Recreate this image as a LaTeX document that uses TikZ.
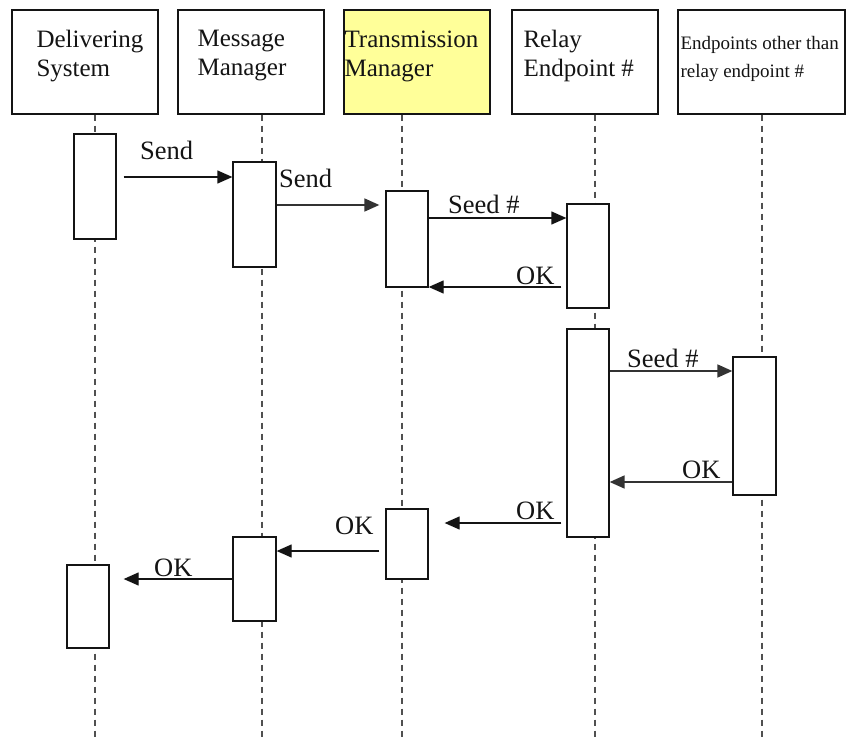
\documentclass[tikz,border=0pt]{standalone}
\usepackage{fontspec}
\setmainfont{Liberation Serif}
\usetikzlibrary{arrows.meta}
\definecolor{ink}{RGB}{20,20,20}
\definecolor{lifegrey}{RGB}{80,80,80}
\definecolor{hilite}{RGB}{255,255,153}
\tikzset{
  head/.style    = {draw=ink, line width=1.3pt, fill=white, minimum height=104pt, inner sep=0pt},
  htxt/.style    = {anchor=north west, inner sep=0pt, align=left, text=ink,
                    font=\fontsize{25}{29}\selectfont},
  life/.style    = {draw=lifegrey, line width=1.3pt, dash pattern=on 6pt off 5pt},
  act/.style     = {draw=ink, line width=1.3pt, fill=white, minimum width=42pt, inner sep=0pt},
  msg/.style     = {-{Triangle[length=15pt,width=13pt]}, draw=ink, line width=1.3pt},
  msgg/.style    = {msg, draw=black!80, line width=1.7pt},
  lbl/.style     = {anchor=base west, inner sep=0pt, text=ink, font=\fontsize{26.5}{30}\selectfont},
}

\begin{document}
\begin{tikzpicture}[x=1pt,y=1pt]
\useasboundingbox (0,0) rectangle (846,-738);

% ======================================================= header boxes
\node[head, minimum width=146pt] (ds) at (85,-62) {};
\node[head, minimum width=146pt] (mm) at (251,-62) {};
\node[head, minimum width=146pt, fill=hilite] (tm) at (417,-62) {};
\node[head, minimum width=146pt] (re) at (585,-62) {};
\node[head, minimum width=167pt] (ep) at (761.5,-62) {};

\node[htxt] at ([xshift=25pt,yshift=-21pt]ds.north west) {Delivering\\System};
\node[htxt] at ([xshift=20pt,yshift=-21pt]mm.north west) {Message\\Manager};
\node[htxt] at ([xshift=1pt,yshift=-21pt]tm.north west) {Transmission\\Manager};
\node[htxt] at ([xshift=12pt,yshift=-21pt]re.north west) {Relay\\Endpoint \#};
\node[htxt, font=\fontsize{19}{28}\selectfont] at ([xshift=3pt,yshift=-27pt]ep.north west)
  {Endpoints other than\\relay endpoint \#};

% ======================================================= lifelines (drawn under the bars)
\coordinate (dsl) at (95,-738);
\coordinate (mml) at (262,-738);
\coordinate (tml) at (402,-738);
\coordinate (rel) at (595,-738);
\coordinate (epl) at (762,-738);
\foreach \h/\l in {ds/dsl, mm/mml, tm/tml, re/rel, ep/epl}
  \draw[life] (\h.south -| \l) -- (\l);

% ======================================================= activation bars
\node[act, minimum height=105pt] (d1) at (95,-186.5) {};
\node[act, minimum height=105pt, minimum width=43pt] (m1) at (254.5,-214.5) {};
\node[act, minimum height=96pt]  (t1) at (407,-239) {};
\node[act, minimum height=104pt] (r1) at (588,-256) {};
\node[act, minimum height=208pt] (r2) at (588,-433) {};
\node[act, minimum height=138pt, minimum width=43pt] (e1) at (754.5,-426) {};
\node[act, minimum height=70pt]  (t2) at (407,-544) {};
\node[act, minimum height=84pt, minimum width=43pt]  (m2) at (254.5,-579) {};
\node[act, minimum height=83pt]  (d2) at (88,-606.5) {};

% ======================================================= messages
\coordinate (y1) at (0,-177);
\coordinate (y2) at (0,-205);
\coordinate (y3) at (0,-218);
\coordinate (y4) at (0,-287);
\coordinate (y5) at (0,-371);
\coordinate (y6) at (0,-482);
\coordinate (y7) at (0,-523);
\coordinate (y8) at (0,-551);
\coordinate (y9) at (0,-579);

\draw[msg, shorten <=7pt] (d1.east |- y1) -- (m1.west |- y1);
\draw[msgg, shorten >=6pt] (m1.east |- y2) -- (t1.west |- y2);
\draw[msg] (t1.east |- y3) -- (r1.west |- y3);
\draw[msg, shorten <=5pt] (r1.west |- y4) -- (t1.east |- y4);
\draw[msgg] (r2.east |- y5) -- (e1.west |- y5);
\draw[msgg] (e1.west |- y6) -- (r2.east |- y6);
\draw[msg, shorten <=5pt, shorten >=16pt] (r2.west |- y7) -- (t2.east |- y7);
\draw[msg, shorten <=6pt] (t2.west |- y8) -- (m2.east |- y8);
\draw[msg, shorten >=14pt] (m2.west |- y9) -- (d2.east |- y9);

\node[lbl] at (140,-160) {Send};
\node[lbl] at (279,-188) {Send};
\node[lbl] at (448,-214) {Seed \#};
\node[lbl] at (516,-284) {OK};
\node[lbl] at (627,-367) {Seed \#};
\node[lbl] at (682,-478) {OK};
\node[lbl] at (516,-519) {OK};
\node[lbl] at (335,-534) {OK};
\node[lbl] at (154,-576) {OK};

\end{tikzpicture}
\end{document}
